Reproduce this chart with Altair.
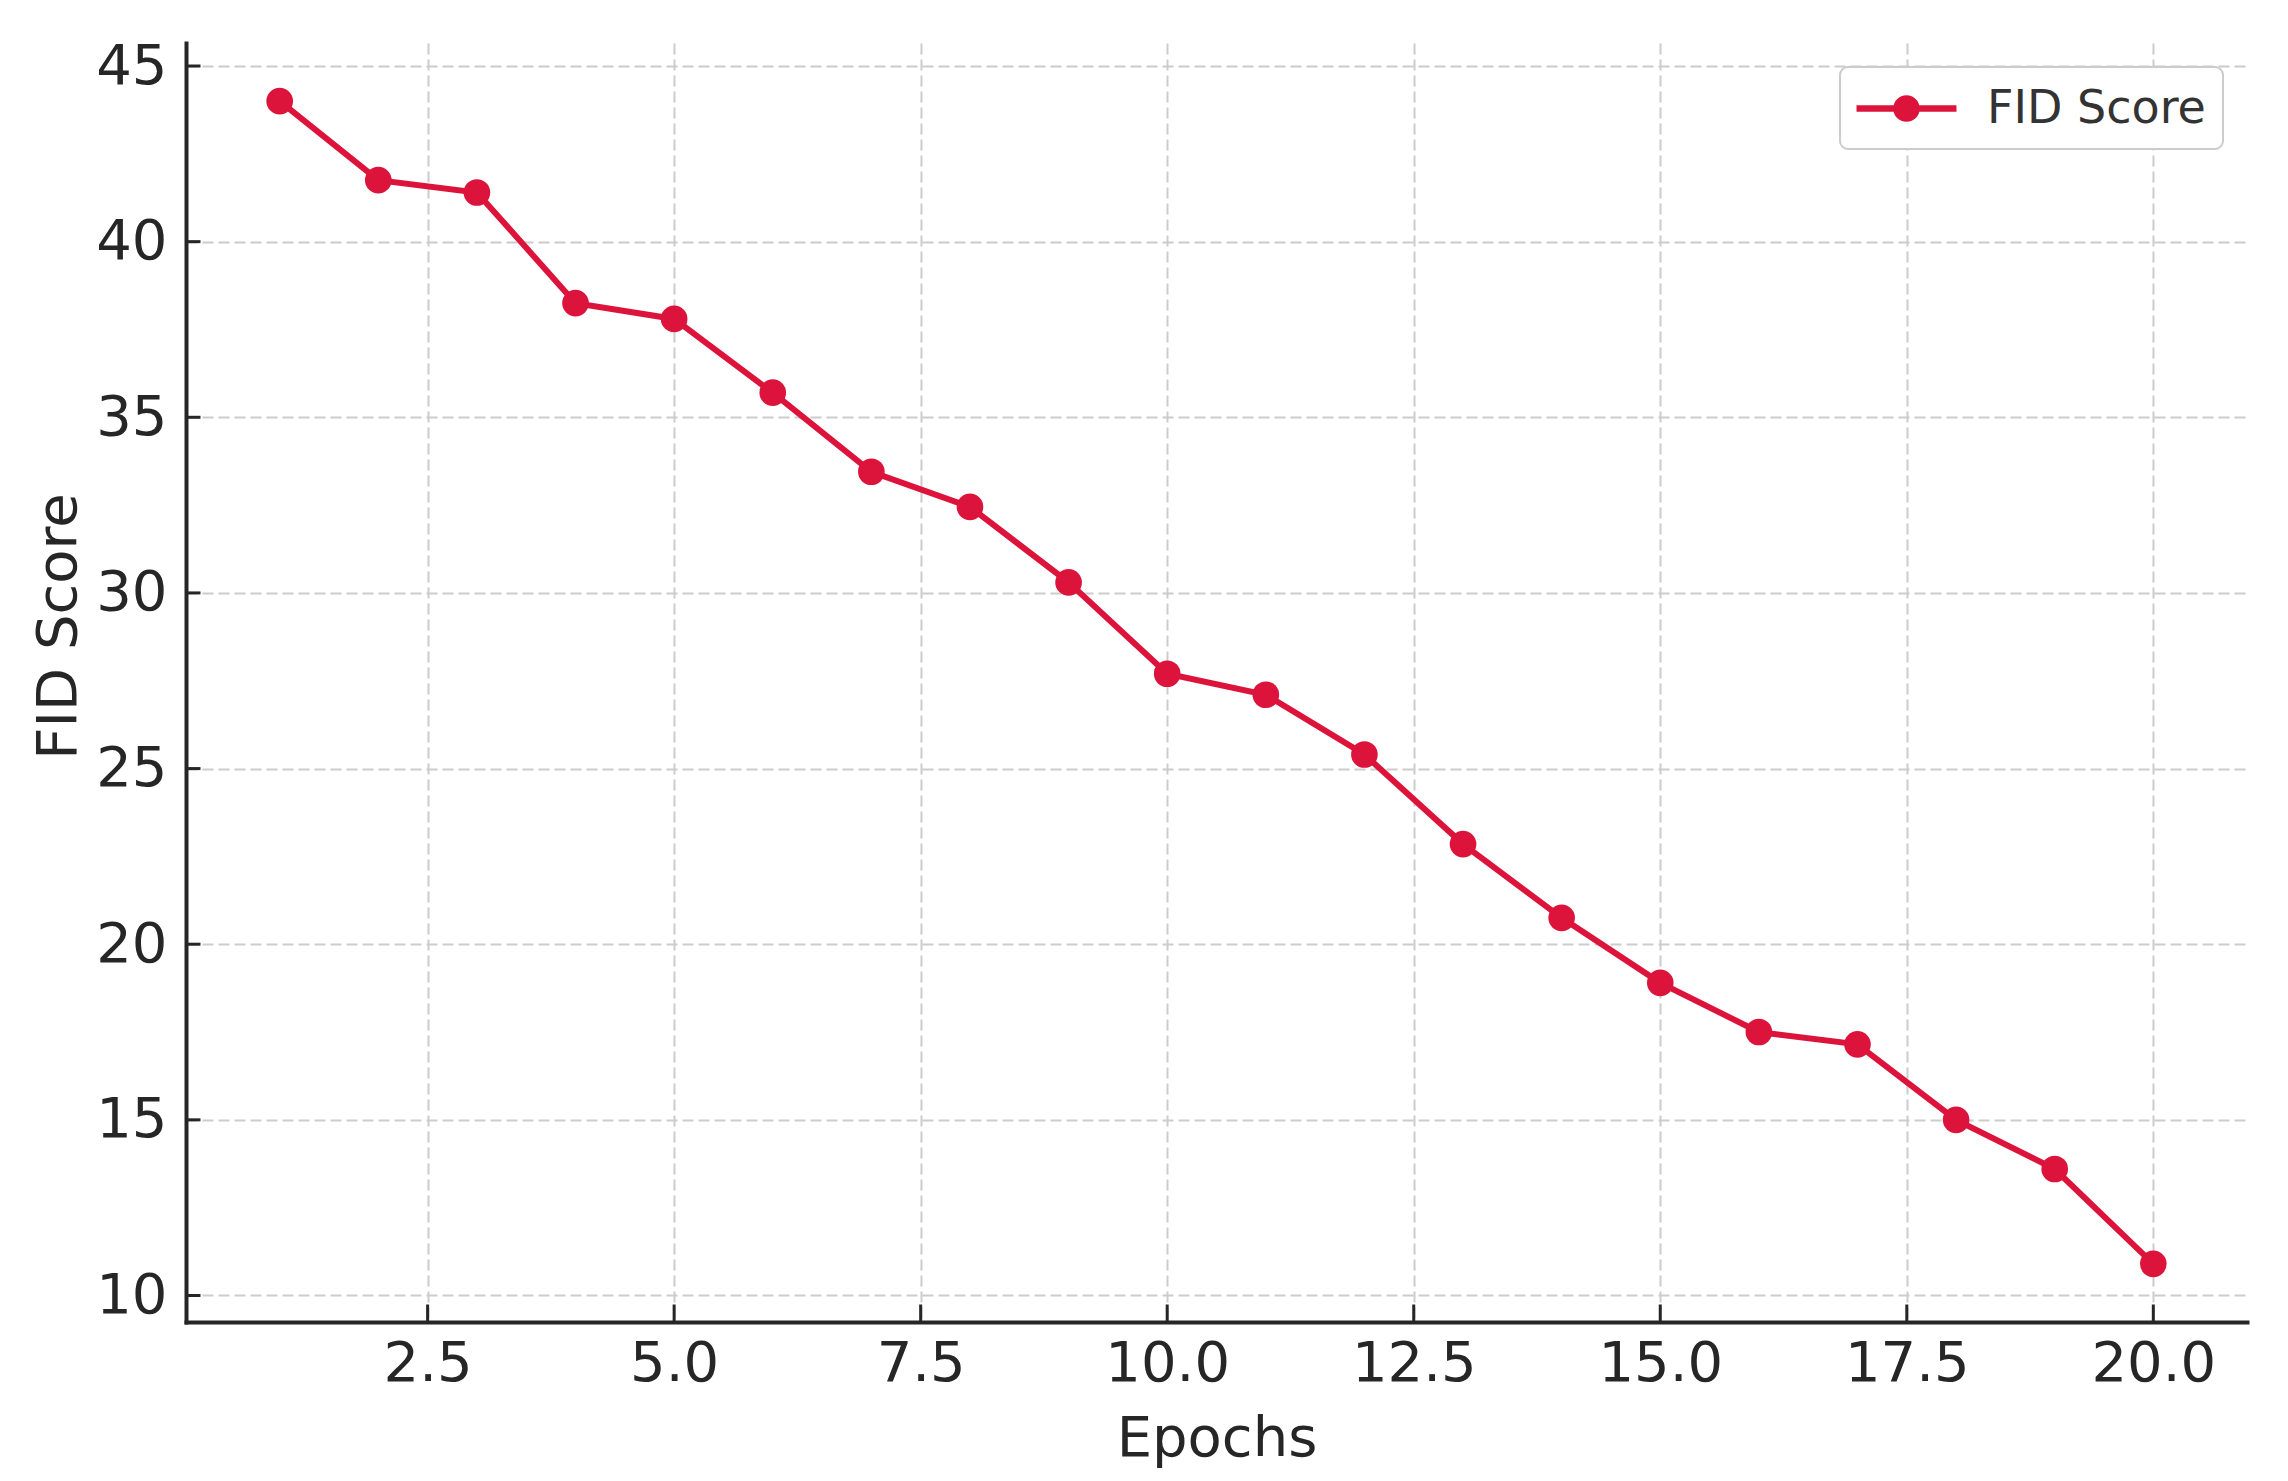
import altair as alt
import pandas as pd

# ---- data ----
epochs = list(range(1, 21))
fid_scores = [44.0, 41.75, 41.4, 38.25, 37.8, 35.7, 33.45, 32.45, 30.3, 27.7,
              27.1, 25.4, 22.85, 20.75, 18.9, 17.5, 17.15, 15.0, 13.6, 10.9]
series_name = "FID Score"
x_tick_values = [2.5, 5.0, 7.5, 10.0, 12.5, 15.0, 17.5, 20.0]
y_tick_values = [10, 15, 20, 25, 30, 35, 40, 45]

# ---- style ----
PLOT_W = 2061
PLOT_H = 1279
RED = "#DC143C"
INK = "#262626"
FONT = "DejaVu Sans"

df = pd.DataFrame({"Epochs": epochs, "FID": fid_scores,
                   "series": [series_name] * len(epochs)})
xt = pd.DataFrame({"t": x_tick_values})
yt = pd.DataFrame({"t": y_tick_values})

x_scale = alt.Scale(domain=[0.05, 20.95], nice=False, zero=False)
y_scale = alt.Scale(domain=[9.245, 45.655], nice=False, zero=False)

x_axis = alt.Axis(values=x_tick_values, format=".1f", title="Epochs", ticks=False,
                  labelPadding=14, labelFlush=False, labelOverlap=False,
                  titleBaseline="alphabetic", titleY=133, grid=True)
y_axis = alt.Axis(values=y_tick_values, format="d", title="FID Score", ticks=False,
                  labelPadding=19, labelFlush=False, labelOverlap=False,
                  titleAngle=270, titleBaseline="alphabetic", titleAlign="center",
                  titleX=-110.7, titleY=583, grid=True)

# legend glyph: line with a dot in the middle (path units = sqrt(symbolSize)/2 px)
legend_path = ("M-1.02,-0.13L0.50,-0.13L0.50,0.13L-1.02,0.13Z "
               "M1.54,-0.13L3.06,-0.13L3.06,0.13L1.54,0.13Z "
               "M1.563,0A0.543,0.543,0,1,1,0.477,0A0.543,0.543,0,1,1,1.563,0Z")

base = alt.Chart(df)

line = base.mark_line(color=RED, strokeWidth=6).encode(
    x=alt.X("Epochs:Q", scale=x_scale, axis=x_axis),
    y=alt.Y("FID:Q", scale=y_scale, axis=y_axis),
)

points = base.mark_point(filled=True, shape="circle", size=710, opacity=1).encode(
    x=alt.X("Epochs:Q", scale=x_scale, axis=x_axis),
    y=alt.Y("FID:Q", scale=y_scale, axis=y_axis),
    color=alt.Color("series:N", scale=alt.Scale(range=[RED]),
                    legend=alt.Legend(title=None, orient="top-right", offset=24,
                                      symbolType=legend_path, symbolSize=2401,
                                      symbolStrokeWidth=0, symbolFillColor=RED,
                                      symbolOpacity=1, labelOffset=81,
                                      labelLimit=600, padding=17)),
)

x_ticks = alt.Chart(xt).mark_rule(color=INK, strokeWidth=3).encode(
    x=alt.X("t:Q", scale=x_scale, axis=x_axis),
    y=alt.value(PLOT_H),
    y2=alt.value(PLOT_H - 17.5),
)

y_ticks = alt.Chart(yt).mark_rule(color=INK, strokeWidth=3).encode(
    y=alt.Y("t:Q", scale=y_scale, axis=y_axis),
    x=alt.value(0),
    x2=alt.value(14.5),
)

chart = alt.layer(line, points, x_ticks, y_ticks).properties(
    width=PLOT_W,
    height=PLOT_H,
    autosize=alt.AutoSizeParams(type="none"),
    padding={"left": 178, "top": 35, "right": 33, "bottom": 150},
    background="white",
).configure_view(
    stroke=None
).configure_axis(
    domainColor=INK,
    domainWidth=4,
    domainCap="square",
    labelFont=FONT,
    labelFontSize=56,
    labelColor=INK,
    titleFont=FONT,
    titleFontSize=56,
    titleFontWeight="normal",
    titleColor=INK,
    gridColor="#cccccc",
    gridDash=[11, 5],
    gridWidth=2,
).configure_legend(
    labelFont=FONT,
    labelFontSize=46,
    labelColor="#333333",
    strokeColor="#cccccc",
    strokeWidth=2,
    cornerRadius=8,
    fillColor="white",
)

chart.save("out.html", embed_options={"renderer": "svg", "actions": False})
